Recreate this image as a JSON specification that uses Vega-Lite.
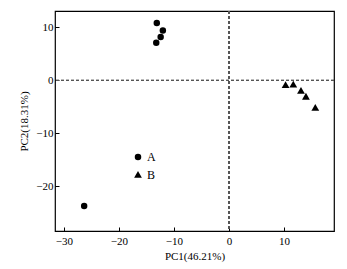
{
  "$schema": "https://vega.github.io/schema/vega-lite/v6.json",
  "width": 279,
  "height": 220,
  "autosize": {"type": "none"},
  "padding": {"left": 55, "top": 11, "right": 13, "bottom": 38},
  "background": "white",
  "config": {
    "view": {"stroke": "black", "strokeWidth": 1.2},
    "font": "Liberation Serif",
    "axis": {
      "grid": false,
      "domain": false,
      "ticks": true,
      "tickColor": "black",
      "tickSize": -4,
      "tickWidth": 1,
      "labelPadding": 6,
      "labelFont": "Liberation Serif",
      "labelFontSize": 11,
      "labelColor": "black",
      "titleFont": "Liberation Serif",
      "titleFontSize": 11,
      "titleFontWeight": "normal",
      "titleColor": "black"
    }
  },
  "data": {
    "values": [
      {"group": "A", "pc1": -13.1, "pc2": 10.85},
      {"group": "A", "pc1": -12.0, "pc2": 9.4},
      {"group": "A", "pc1": -12.4, "pc2": 8.2},
      {"group": "A", "pc1": -13.2, "pc2": 7.1},
      {"group": "A", "pc1": -26.3, "pc2": -23.7},
      {"group": "B", "pc1": 10.3, "pc2": -0.9},
      {"group": "B", "pc1": 11.7, "pc2": -0.8},
      {"group": "B", "pc1": 13.1, "pc2": -2.0},
      {"group": "B", "pc1": 14.0, "pc2": -3.1},
      {"group": "B", "pc1": 15.7, "pc2": -5.2}
    ]
  },
  "layer": [
    {
      "mark": {"type": "rule", "strokeDash": [3, 2], "color": "#555555", "strokeWidth": 0.8},
      "encoding": {"x": {"datum": 0, "type": "quantitative"}}
    },
    {
      "mark": {"type": "rule", "strokeDash": [3, 2], "color": "#555555", "strokeWidth": 0.8},
      "encoding": {"y": {"datum": 0, "type": "quantitative"}}
    },
    {
      "mark": {"type": "point", "filled": true, "opacity": 1, "size": 42},
      "encoding": {
        "x": {
          "field": "pc1", "type": "quantitative", "title": "PC1(46.21%)",
          "scale": {"domain": [-31.6, 19.1], "nice": false, "zero": false},
          "axis": {"values": [-30, -20, -10, 0, 10], "labelPadding": 8, "titlePadding": 4}
        },
        "y": {
          "field": "pc2", "type": "quantitative", "title": "PC2(18.31%)",
          "scale": {"domain": [-28.4, 13.1], "nice": false, "zero": false},
          "axis": {"values": [-20, -10, 0, 10], "titlePadding": 6}
        },
        "shape": {
          "field": "group", "type": "nominal",
          "scale": {"domain": ["A", "B"], "range": ["circle", "M0,-1.25L1.2,0.85L-1.2,0.85Z"]},
          "legend": {
            "title": null, "orient": "none", "legendX": 77, "legendY": 140,
            "labelFont": "Liberation Serif", "labelFontSize": 12, "labelColor": "black",
            "symbolFillColor": "black", "symbolStrokeColor": "black", "symbolSize": 42,
            "symbolOpacity": 1,
            "rowPadding": 3, "labelOffset": 3, "padding": 0
          }
        },
        "color": {"value": "black"}
      }
    }
  ]
}
